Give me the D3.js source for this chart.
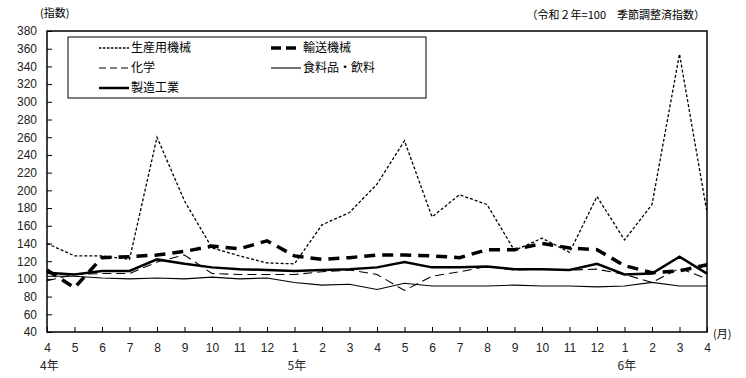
<!DOCTYPE html>
<html>
<head>
<meta charset="utf-8">
<script src="https://cdn.jsdelivr.net/npm/d3@7"></script>
<style>
  body { margin: 0; background: #fff; }
  svg { display: block; font-family: "Noto Sans CJK JP", "DejaVu Sans", sans-serif; }
</style>
</head>
<body>
<div id="chart"></div>
<script>
// months 4年4月 .. 6年4月
const months = ["4","5","6","7","8","9","10","11","12","1","2","3","4","5","6","7","8","9","10","11","12","1","2","3","4"];
const yearLabels = [{i: 0, t: "4年"}, {i: 9, t: "5年"}, {i: 21, t: "6年"}];
const yTicks = d3.range(40, 381, 20);

const seisanyo = [140,126,126,122,260,188,135,126,118,117,161,175,207,256,170,195,184,132,146,130,193,144,184,354,175];
const yuso     = [110,90,124,125,127,131,137,134,143,126,122,124,127,127,126,124,133,133,140,135,133,115,107,109,116];
const kagaku   = [98,105,106,106,119,127,106,105,105,105,108,110,105,87,103,108,114,110,111,110,111,105,96,112,100];
const shokuryo = [103,103,101,100,101,100,102,100,101,96,93,94,88,95,92,92,92,93,92,92,91,92,96,92,92];
const seizo    = [107,105,109,109,122,117,113,111,110,109,110,111,113,119,113,113,114,111,111,110,117,105,106,125,106];

const series = [
  {name: "生産用機械", values: seisanyo, w: 1.3, dash: "3,2", legDash: "2.5,1.5"},
  {name: "輸送機械", values: yuso, w: 3.5, dash: "11,7", legDash: "10,5"},
  {name: "化学", values: kagaku, w: 1.1, dash: "9,5", legDash: "7,4"},
  {name: "食料品・飲料", values: shokuryo, w: 1.1, dash: null, legDash: null},
  {name: "製造工業", values: seizo, w: 2.5, dash: null, legDash: null}
];

const W = 746, H = 378;
const margin = {left: 47, right: 39, top: 31, bottom: 46};
const width = W - margin.left - margin.right;
const height = H - margin.top - margin.bottom;

const svg = d3.select("#chart").append("svg")
  .attr("width", W).attr("height", H);

const g = svg.append("g").attr("transform", `translate(${margin.left},${margin.top})`);

const x = d3.scaleLinear().domain([0, months.length - 1]).range([0, width]);
const y = d3.scaleLinear().domain([40, 380]).range([height, 0]);

// frame
g.append("rect").attr("width", width).attr("height", height)
  .attr("fill", "none").attr("stroke", "#000").attr("stroke-width", 1.5);

// y axis
const yAxis = g.append("g")
  .call(d3.axisLeft(y).tickValues(yTicks).tickSize(-5).tickPadding(10));
yAxis.select(".domain").remove();
yAxis.selectAll("text").style("font-size", "12px").attr("fill", "#222");

// x axis
const xAxis = g.append("g").attr("transform", `translate(0,${height})`)
  .call(d3.axisBottom(x).tickValues(d3.range(months.length)).tickFormat(i => months[i]).tickSize(-5).tickPadding(11));
xAxis.select(".domain").remove();
xAxis.selectAll("text").style("font-size", "12px").attr("fill", "#222");

g.selectAll(".yr").data(yearLabels).join("text")
  .attr("x", d => x(d.i) - 7).attr("y", height + 38)
  .style("font-size", "12px").attr("fill", "#222")
  .text(d => d.t);

svg.append("text").attr("x", 713).attr("y", 338)
  .style("font-size", "11px").text("(月)");
svg.append("text").attr("x", 40).attr("y", 17)
  .style("font-size", "11px").text("(指数)");
svg.append("text").attr("x", 705).attr("y", 19).attr("text-anchor", "end")
  .style("font-size", "11px").text("（令和２年=100　季節調整済指数）");

// lines
const line = d3.line().x((d, i) => x(i)).y(d => y(d));
g.selectAll(".series").data(series).join("path")
  .attr("fill", "none").attr("stroke", "#000")
  .attr("stroke-width", d => d.w)
  .attr("stroke-dasharray", d => d.dash)
  .attr("d", d => line(d.values));

// legend
const lg = svg.append("g");
lg.append("rect").attr("x", 68).attr("y", 37).attr("width", 358).attr("height", 61)
  .attr("fill", "#fff").attr("stroke", "#000").attr("stroke-width", 1);
const legPos = [[0, 0], [1, 0], [0, 1], [1, 1], [0, 2]];
series.forEach((s, i) => {
  const [c, r] = legPos[i];
  const lx = c === 0 ? 99 : 271;
  const ly = 48 + r * 20;
  lg.append("line").attr("x1", lx).attr("x2", lx + 30).attr("y1", ly).attr("y2", ly)
    .attr("stroke", "#000").attr("stroke-width", s.w)
    .attr("stroke-dasharray", s.legDash);
  lg.append("text").attr("x", lx + 32).attr("y", ly + 4)
    .style("font-size", "12px").text(s.name);
});
</script>
</body>
</html>
